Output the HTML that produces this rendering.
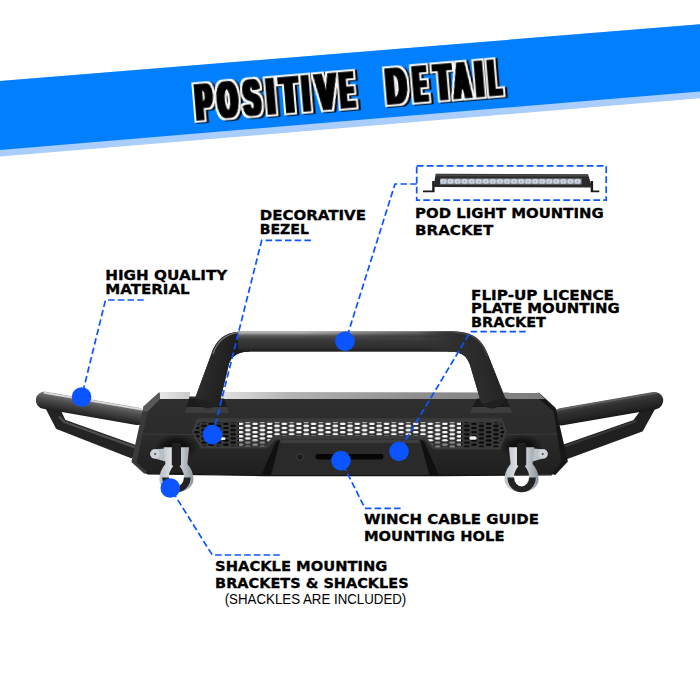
<!DOCTYPE html>
<html lang="en"><head><meta charset="utf-8"><title>Positive Detail</title>
<style>
html,body{margin:0;padding:0;background:#fff;}
body{width:700px;height:700px;overflow:hidden;}
svg{display:block;}
</style></head><body>
<svg width="700" height="700" viewBox="0 0 700 700">
<rect width="700" height="700" fill="#fff"/>
<polygon points="0,81 700,24.3 700,98.3 0,156.6" fill="#a9cdfc"/>
<polygon points="0,81 700,24.3 700,91.4 0,150" fill="#0080ff"/>
<defs><filter id="titlefx" x="-5%" y="-30%" width="110%" height="160%" color-interpolation-filters="sRGB">
<feMorphology in="SourceAlpha" operator="dilate" radius="2.0 0" result="fat"/>
<feMorphology in="fat" operator="dilate" radius="1.6 1.6" result="out"/>
<feFlood flood-color="#ffffff"/><feComposite in2="out" operator="in" result="white"/>
<feOffset in="out" dx="1.8" dy="1.4" result="sh"/>
<feMerge><feMergeNode in="sh"/><feMergeNode in="white"/><feMergeNode in="fat"/></feMerge>
</filter></defs>
<g transform="translate(196.4,120.0) rotate(-4.75)" font-family="'Liberation Sans', sans-serif" font-weight="bold" font-size="49.2" fill="#000" stroke="#000" stroke-width="1.5" stroke-linejoin="miter" filter="url(#titlefx)"><text y="0"><tspan x="0.74" textLength="16.29" lengthAdjust="spacingAndGlyphs">P</tspan><tspan x="22.93" textLength="19.39" lengthAdjust="spacingAndGlyphs">O</tspan><tspan x="49.04" textLength="16.07" lengthAdjust="spacingAndGlyphs">S</tspan><tspan x="72.28" textLength="7.37" lengthAdjust="spacingAndGlyphs">I</tspan><tspan x="85.90" textLength="16.94" lengthAdjust="spacingAndGlyphs">T</tspan><tspan x="108.31" textLength="6.25" lengthAdjust="spacingAndGlyphs">I</tspan><tspan x="121.95" textLength="19.10" lengthAdjust="spacingAndGlyphs">V</tspan><tspan x="145.77" textLength="13.25" lengthAdjust="spacingAndGlyphs">E</tspan><tspan> </tspan><tspan x="191.94" textLength="19.83" lengthAdjust="spacingAndGlyphs">D</tspan><tspan x="219.58" textLength="12.58" lengthAdjust="spacingAndGlyphs">E</tspan><tspan x="240.73" textLength="16.14" lengthAdjust="spacingAndGlyphs">T</tspan><tspan x="259.87" textLength="15.82" lengthAdjust="spacingAndGlyphs">A</tspan><tspan x="281.59" textLength="7.37" lengthAdjust="spacingAndGlyphs">I</tspan><tspan x="294.82" textLength="11.74" lengthAdjust="spacingAndGlyphs">L</tspan></text></g>
<defs>
<linearGradient id="tubeV" x1="0" y1="0" x2="0" y2="1">
 <stop offset="0" stop-color="#5a5a5a"/><stop offset="0.14" stop-color="#404040"/><stop offset="0.35" stop-color="#303030"/><stop offset="0.7" stop-color="#262626"/><stop offset="1" stop-color="#181818"/>
</linearGradient>
<linearGradient id="tubeL" x1="0" y1="0" x2="0" y2="1">
 <stop offset="0" stop-color="#9a9a9a"/><stop offset="0.15" stop-color="#6a6a6a"/><stop offset="0.4" stop-color="#4e4e4e"/><stop offset="0.75" stop-color="#333"/><stop offset="1" stop-color="#1e1e1e"/>
</linearGradient>
<linearGradient id="barTop" x1="0" y1="0" x2="0" y2="1">
 <stop offset="0" stop-color="#c8c8c8"/><stop offset="0.1" stop-color="#9c9c9c"/><stop offset="0.22" stop-color="#585858"/><stop offset="0.42" stop-color="#3a3a3a"/><stop offset="0.8" stop-color="#2e2e2e"/><stop offset="1" stop-color="#1e1e1e"/>
</linearGradient>
<linearGradient id="barFade" x1="0" y1="0" x2="1" y2="0">
 <stop offset="0" stop-color="#303030" stop-opacity="0"/><stop offset="1" stop-color="#303030" stop-opacity="0.8"/>
</linearGradient>
<linearGradient id="barEnd" x1="0" y1="0" x2="1" y2="0">
 <stop offset="0" stop-color="#313131" stop-opacity="0"/><stop offset="1" stop-color="#313131" stop-opacity="1"/>
</linearGradient>
<linearGradient id="legL" x1="0" y1="0" x2="1" y2="0.3">
 <stop offset="0" stop-color="#3a3a3a"/><stop offset="0.35" stop-color="#2a2a2a"/><stop offset="1" stop-color="#151515"/>
</linearGradient>
<linearGradient id="legR" x1="1" y1="0" x2="0" y2="0.3">
 <stop offset="0" stop-color="#1c1c1c"/><stop offset="0.5" stop-color="#2a2a2a"/><stop offset="1" stop-color="#313131"/>
</linearGradient>
<linearGradient id="face" x1="0" y1="0" x2="0" y2="1">
 <stop offset="0" stop-color="#2f2f30"/><stop offset="0.5" stop-color="#2b2b2c"/><stop offset="1" stop-color="#1f1f20"/>
</linearGradient>
<linearGradient id="stripL" x1="0" y1="0" x2="1" y2="0">
 <stop offset="0" stop-color="#e8e8e8"/><stop offset="1" stop-color="#c9c9c9"/>
</linearGradient>
<linearGradient id="stripM" x1="0" y1="0" x2="1" y2="0">
 <stop offset="0" stop-color="#e6e6e6"/><stop offset="0.22" stop-color="#b4b4b4"/><stop offset="0.6" stop-color="#8e8e8e"/><stop offset="1" stop-color="#7c7c7c"/>
</linearGradient>
<linearGradient id="steel" x1="0" y1="0" x2="1" y2="0">
 <stop offset="0" stop-color="#b9c0c6"/><stop offset="0.45" stop-color="#e4e8eb"/><stop offset="1" stop-color="#8d959c"/>
</linearGradient>
<radialGradient id="shadowR"><stop offset="0" stop-color="#000" stop-opacity="0.85"/><stop offset="0.55" stop-color="#000" stop-opacity="0.5"/><stop offset="1" stop-color="#000" stop-opacity="0"/></radialGradient>
<pattern id="meshW" x="236.9" y="422.6" width="14.6" height="4.16" patternUnits="userSpaceOnUse">
 <rect width="14.6" height="4.16" fill="#2e2e2e"/>
 <polygon points="0.5,1.25 1.7,0.1 5.5,0.1 6.7,1.25 5.5,2.4 1.7,2.4" fill="#f6f6f6"/>
 <polygon points="7.8,3.33 9.0,2.18 12.8,2.18 14.0,3.33 12.8,4.48 9.0,4.48" fill="#f6f6f6"/>
 <polygon points="7.8,-0.83 9.0,-1.98 12.8,-1.98 14.0,-0.83 12.8,0.32 9.0,0.32" fill="#f6f6f6"/>
</pattern>
<pattern id="meshD" x="236.9" y="422.6" width="14.6" height="4.16" patternUnits="userSpaceOnUse">
 <rect width="14.6" height="4.16" fill="#3c3c3c"/>
 <polygon points="0.3,1.25 1.6,0 5.6,0 6.9,1.25 5.6,2.5 1.6,2.5" fill="#0b0b0b"/>
 <polygon points="7.6,3.33 8.9,2.08 12.9,2.08 14.2,3.33 12.9,4.58 8.9,4.58" fill="#0b0b0b"/>
 <polygon points="7.6,-0.83 8.9,-2.08 12.9,-2.08 14.2,-0.83 12.9,0.42 8.9,0.42" fill="#0b0b0b"/>
</pattern>
</defs>
<g id="bumper">
<path d="M46.5,408 L56.8,428 L131.5,457.3 L137.5,446.6 L64.6,420.6 L60.5,412 Z" fill="#242424" stroke="#242424" stroke-width="2" stroke-linejoin="round"/>
<path d="M59,416.5 L64,421.8 L136,447.6" fill="none" stroke="#4d4d4d" stroke-width="2.4" stroke-linejoin="round"/>
<g transform="translate(44.5,400.3) rotate(9.8)"><rect x="-8.7" y="-8.7" width="112" height="17.4" rx="8.7" fill="url(#tubeL)"/><rect x="-2" y="-8.3" width="104" height="1.8" rx="0.9" fill="#e6e6e6" opacity="0.9"/></g>
<path d="M655,407 L642,430.5 L567,458 L564.5,445.2 L634,421 L640.5,412 Z" fill="#202020" stroke="#202020" stroke-width="2" stroke-linejoin="round"/>
<path d="M636.5,421 L565,446.2" fill="none" stroke="#383838" stroke-width="2"/>
<g transform="translate(654.6,400.6) rotate(-9.8)"><rect x="-103.3" y="-8.7" width="112" height="17.4" rx="8.7" fill="url(#tubeV)"/><rect x="-101" y="-8.2" width="104" height="1.6" rx="0.8" fill="#6a6a6a" opacity="0.7"/></g>
<polygon points="159.8,396.5 538.2,396.5 555,409.5 563.5,462 553.5,474.6 437,475.6 263,475.6 145,473.4 134,462.4 145.5,409" fill="url(#face)"/>
<polygon points="159.3,392.3 143.6,406.4 131.4,462.1 144.3,473.8 147,471.5 136.4,462.6 147.9,411.2 160.5,398.4" fill="#3a3a3a"/>
<polygon points="159.3,392.3 143.6,406.4 142.5,411.5 147.9,411.2 160.5,398.4" fill="#585858"/>
<polygon points="538.6,392.2 555.7,407.9 567.9,461.6 555,475.2 552.5,473.6 561.4,462 553.6,411.4 537.9,398" fill="#171717"/>
<polygon points="160,392 190,392 189,399 160,399" fill="url(#stripL)"/>
<polygon points="216,392 538.6,392.6 545,399 216,399" fill="url(#stripM)"/>
<path d="M143.5,434 L196,434.6 M504,434.6 L557,434" stroke="#3c3c3c" stroke-width="1" fill="none"/>
<polygon points="189,398.4 224,398.4 229,413 185,413" fill="#1b1b1b"/>
<polygon points="186.6,407 227,407 229,413 185,413" fill="#3d3d3d"/>
<polygon points="477,398.4 506.5,398.4 512.5,413 469.5,413" fill="#1b1b1b"/>
<polygon points="472.5,407 510,407 512.5,413 469.5,413" fill="#3d3d3d"/>
<path d="M194.8,399 L211,355 Q217,333 240,331.4 L452,331.4 C472,331.4 482,338 488.5,356 L505.5,399 L481.5,404 L470,365 C467,356 462,351.4 448,351.4 L250,351.4 Q233.5,351.6 229.2,363 L219.2,404.5 Z" fill="#282828"/>
<path d="M194.8,399 L211,355 Q217,333 240,331.4 L250,351.4 Q233.5,351.6 229.2,363 L219.2,404.5 Z" fill="url(#legL)"/>
<path d="M505.5,399 L488.5,356 C482,338 472,331.4 452,331.4 L448,351.4 C462,351.4 467,356 470,365 L481.5,404 Z" fill="url(#legR)"/>
<rect x="238" y="331.4" width="214" height="20" fill="url(#barTop)"/>
<rect x="300" y="331.4" width="154" height="6.5" fill="url(#barFade)"/>
<rect x="418" y="331.4" width="34.5" height="20" fill="url(#barEnd)"/>
<path d="M213,354 Q219,334.5 240,332.4" fill="none" stroke="#8a8a8a" stroke-width="1.3" opacity="0.8"/>
<path d="M452,332.2 C471,332.4 481,338.5 487.5,356" fill="none" stroke="#555" stroke-width="1.2" opacity="0.7"/>
<path d="M194.8,398 L219.3,404 Q212,410 204,407.8 Q195.8,404.5 194.8,398Z" fill="#202020"/>
<path d="M505.5,398 L481.3,404 Q488,410 496,407.8 Q504.5,404.5 505.5,398Z" fill="#202020"/>
<polygon points="197,418.3 502,418.3 507,431.5 500.5,449.6 433.5,449.6 424.5,439.6 276,439.6 266.5,448.6 201,448.6 191.5,432.5" fill="#3b3b3b"/>
<polygon points="199,422.2 239,422.2 239,446.2 202.5,446.2 194,432.5" fill="url(#meshD)"/>
<polygon points="239,422.2 461,422.2 461,447.2 434.5,447.2 424.5,435.2 274,435.2 264.5,446.2 239,446.2" fill="url(#meshW)"/>
<polygon points="239,440.5 269.5,440.5 264.5,446.2 239,446.2" fill="#2c2c2c" opacity="0.55"/>
<polygon points="429,441 461,441 461,447.2 434.5,447.2" fill="#2c2c2c" opacity="0.55"/>
<polygon points="461,422.2 501,422.2 504.5,431.5 499,447.2 461,447.2" fill="url(#meshD)"/>
<rect x="469.5" y="436.2" width="7" height="3.6" rx="1.6" fill="#f2f2f2"/>
<rect x="220.5" y="437.2" width="5" height="2.8" rx="1.3" fill="#e8e8e8"/>
<polygon points="281,440 419,440 437,475.6 262,475.6" fill="#2a2a2b"/>
<polygon points="281,440 419,440 420.5,443 279.5,443" fill="#3d3d3d"/>
<polygon points="280,440 276,441.5 261,475.6 271,475.6" fill="#101010"/>
<polygon points="420,440 424,441.5 439,475.6 429.5,475.6" fill="#101010"/>
<rect x="315.5" y="454" width="68" height="5.6" rx="2.8" fill="#060606"/>
<circle cx="300" cy="457" r="3.3" fill="#1a1a1a" stroke="#444" stroke-width="0.9"/>
<polygon points="146,473 262,475 437,475 552.5,474.2 551.5,475.4 437,476.2 262,476.2 147.5,474.4" fill="#111"/>
<ellipse cx="176.4" cy="447" rx="22" ry="13" fill="url(#shadowR)"/>
<path d="M165.4,448.6 L154.9,449.3 a4.6,4.6 0 0 0 0,9.2 L165.4,461.5 Z" fill="#b9c0c6"/>
<circle cx="154.9" cy="453.9" r="4.7" fill="#cdd3d8"/><circle cx="155.20000000000002" cy="454" r="1.1" fill="#4a4a4a"/>
<path d="M163.70000000000002,447.2 L165.4,464 Q159.4,470.5 159.4,479.5 A17,12.8 0 0 0 193.4,479.5 Q193.4,470.5 187.4,464 L189.1,447.2 L180.6,447.2 L179.6,466 Q184.8,472.5 184.0,480 A7.6,6.6 0 0 1 168.8,480 Q168.0,472.5 173.20000000000002,466 L172.20000000000002,447.2 Z" fill="url(#steel)"/>
<path d="M162.20000000000002,477.5 A14.2,14.8 0 0 0 190.6,477.5 L183.9,477.5 A7.5,9 0 0 1 168.9,477.5 Z" fill="#232323"/>
<rect x="171.8" y="442.8" width="9.2" height="23" rx="1.6" fill="#1f1f1f"/>
<ellipse cx="521.6" cy="447" rx="22" ry="13" fill="url(#shadowR)"/>
<path d="M532.6,448.6 L543,449.3 a4.6,4.6 0 0 1 0,9.2 L532.6,461.5 Z" fill="#b9c0c6"/>
<circle cx="543" cy="453.9" r="4.7" fill="#cdd3d8"/><circle cx="542.7" cy="454" r="1.1" fill="#4a4a4a"/>
<path d="M508.90000000000003,447.2 L510.6,464 Q504.6,470.5 504.6,479.5 A17,12.8 0 0 0 538.6,479.5 Q538.6,470.5 532.6,464 L534.3000000000001,447.2 L525.8000000000001,447.2 L524.8000000000001,466 Q530.0,472.5 529.2,480 A7.6,6.6 0 0 1 514.0,480 Q513.2,472.5 518.4,466 L517.4,447.2 Z" fill="url(#steel)"/>
<path d="M507.40000000000003,477.5 A14.2,14.8 0 0 0 535.8000000000001,477.5 L529.1,477.5 A7.5,9 0 0 1 514.1,477.5 Z" fill="#232323"/>
<rect x="517.0" y="442.8" width="9.2" height="23" rx="1.6" fill="#1f1f1f"/>
</g>
<g id="lightbar">
<defs><pattern id="led" x="440" y="178" width="7.05" height="6.4" patternUnits="userSpaceOnUse"><rect width="7.05" height="6.4" fill="#8d97a1"/><ellipse cx="3.5" cy="3.1" rx="3.1" ry="2.7" fill="#d0d9e3"/><ellipse cx="3.5" cy="3.4" rx="1.1" ry="1" fill="#9aa5b0"/></pattern></defs>
<path d="M423,190.6 h9.2 v-9.6 h2.4 v11.2 h-11.6z" fill="#1a1a1a"/>
<path d="M599.3,190.6 h-6.2 v-9.6 h-2.4 v11.2 h8.6z" fill="#1a1a1a"/>
<polygon points="435.7,173.8 588,174.2 592.2,187.6 433.6,187" fill="#2a2a2a"/>
<polygon points="436.5,174.4 587.5,174.8 588.2,176.6 436.2,176.2" fill="#4a4a4a"/>
<rect x="440" y="178" width="141.5" height="6.4" fill="url(#led)"/>
<rect x="440" y="178" width="141.5" height="1.1" fill="#333" opacity="0.6"/>
</g>
<rect x="416.7" y="165.8" width="189.5" height="34.4" fill="none" stroke="#0a55ff" stroke-width="1.7" stroke-dasharray="6.8 3.2"/>
<path d="M416.7,184 L395,184 L346,340" fill="none" stroke="#0a55ff" stroke-width="1.7" stroke-dasharray="6.5 3.2"/>
<path d="M310.9,240.3 L261.7,240.3 L213,434" fill="none" stroke="#0a55ff" stroke-width="1.7" stroke-dasharray="6.5 3.2"/>
<path d="M143.7,300 L105.5,300 L81.6,397" fill="none" stroke="#0a55ff" stroke-width="1.7" stroke-dasharray="6.5 3.2"/>
<path d="M525.7,331.7 L470.5,331.7 L399,451" fill="none" stroke="#0a55ff" stroke-width="1.7" stroke-dasharray="6.5 3.2"/>
<path d="M400.6,508.3 L365,508.3 L341,460.6" fill="none" stroke="#0a55ff" stroke-width="1.7" stroke-dasharray="6.5 3.2"/>
<path d="M279.8,555 L212.3,555 L170.3,488" fill="none" stroke="#0a55ff" stroke-width="1.7" stroke-dasharray="6.5 3.2"/>
<circle cx="345" cy="341.4" r="9.8" fill="#0a55ff"/>
<circle cx="212.4" cy="434.6" r="9.8" fill="#0a55ff"/>
<circle cx="81.6" cy="397" r="9.8" fill="#0a55ff"/>
<circle cx="399" cy="451.4" r="9.8" fill="#0a55ff"/>
<circle cx="340.9" cy="460.6" r="9.8" fill="#0a55ff"/>
<circle cx="170.3" cy="488" r="9.8" fill="#0a55ff"/>
<text x="415.1" y="218.2" font-family="'DejaVu Sans', 'Liberation Sans', sans-serif" font-weight="bold" font-size="13.6" textLength="188.6" lengthAdjust="spacingAndGlyphs" fill="#000" stroke="#000" stroke-width="0.3">POD LIGHT MOUNTING</text>
<text x="415.1" y="234.7" font-family="'DejaVu Sans', 'Liberation Sans', sans-serif" font-weight="bold" font-size="13.6" textLength="78.1" lengthAdjust="spacingAndGlyphs" fill="#000" stroke="#000" stroke-width="0.3">BRACKET</text>
<text x="259.7" y="220.3" font-family="'DejaVu Sans', 'Liberation Sans', sans-serif" font-weight="bold" font-size="13.6" textLength="106.3" lengthAdjust="spacingAndGlyphs" fill="#000" stroke="#000" stroke-width="0.3">DECORATIVE</text>
<text x="259.7" y="234.0" font-family="'DejaVu Sans', 'Liberation Sans', sans-serif" font-weight="bold" font-size="13.6" textLength="49.2" lengthAdjust="spacingAndGlyphs" fill="#000" stroke="#000" stroke-width="0.3">BEZEL</text>
<text x="105.2" y="280.3" font-family="'DejaVu Sans', 'Liberation Sans', sans-serif" font-weight="bold" font-size="13.6" textLength="122.2" lengthAdjust="spacingAndGlyphs" fill="#000" stroke="#000" stroke-width="0.3">HIGH QUALITY</text>
<text x="105.2" y="294.1" font-family="'DejaVu Sans', 'Liberation Sans', sans-serif" font-weight="bold" font-size="13.6" textLength="84.5" lengthAdjust="spacingAndGlyphs" fill="#000" stroke="#000" stroke-width="0.3">MATERIAL</text>
<text x="471.0" y="299.6" font-family="'DejaVu Sans', 'Liberation Sans', sans-serif" font-weight="bold" font-size="13.6" textLength="143.0" lengthAdjust="spacingAndGlyphs" fill="#000" stroke="#000" stroke-width="0.3">FLIP-UP LICENCE</text>
<text x="471.0" y="313.2" font-family="'DejaVu Sans', 'Liberation Sans', sans-serif" font-weight="bold" font-size="13.6" textLength="148.7" lengthAdjust="spacingAndGlyphs" fill="#000" stroke="#000" stroke-width="0.3">PLATE MOUNTING</text>
<text x="471.0" y="326.8" font-family="'DejaVu Sans', 'Liberation Sans', sans-serif" font-weight="bold" font-size="13.6" textLength="75.0" lengthAdjust="spacingAndGlyphs" fill="#000" stroke="#000" stroke-width="0.3">BRACKET</text>
<text x="363.9" y="524.1" font-family="'DejaVu Sans', 'Liberation Sans', sans-serif" font-weight="bold" font-size="14.2" textLength="175.1" lengthAdjust="spacingAndGlyphs" fill="#000" stroke="#000" stroke-width="0.3">WINCH CABLE GUIDE</text>
<text x="363.9" y="540.5" font-family="'DejaVu Sans', 'Liberation Sans', sans-serif" font-weight="bold" font-size="14.2" textLength="140.6" lengthAdjust="spacingAndGlyphs" fill="#000" stroke="#000" stroke-width="0.3">MOUNTING HOLE</text>
<text x="215.1" y="571.1" font-family="'DejaVu Sans', 'Liberation Sans', sans-serif" font-weight="bold" font-size="13.8" textLength="172.3" lengthAdjust="spacingAndGlyphs" fill="#000" stroke="#000" stroke-width="0.3">SHACKLE MOUNTING</text>
<text x="215.1" y="587.6" font-family="'DejaVu Sans', 'Liberation Sans', sans-serif" font-weight="bold" font-size="13.8" textLength="193.6" lengthAdjust="spacingAndGlyphs" fill="#000" stroke="#000" stroke-width="0.3">BRACKETS &amp; SHACKLES</text>
<text x="224.7" y="603.7" font-family="'Liberation Sans', sans-serif" font-weight="normal" font-size="13.8" textLength="181.6" lengthAdjust="spacingAndGlyphs" fill="#000">(SHACKLES ARE INCLUDED)</text>
</svg>
</body></html>
